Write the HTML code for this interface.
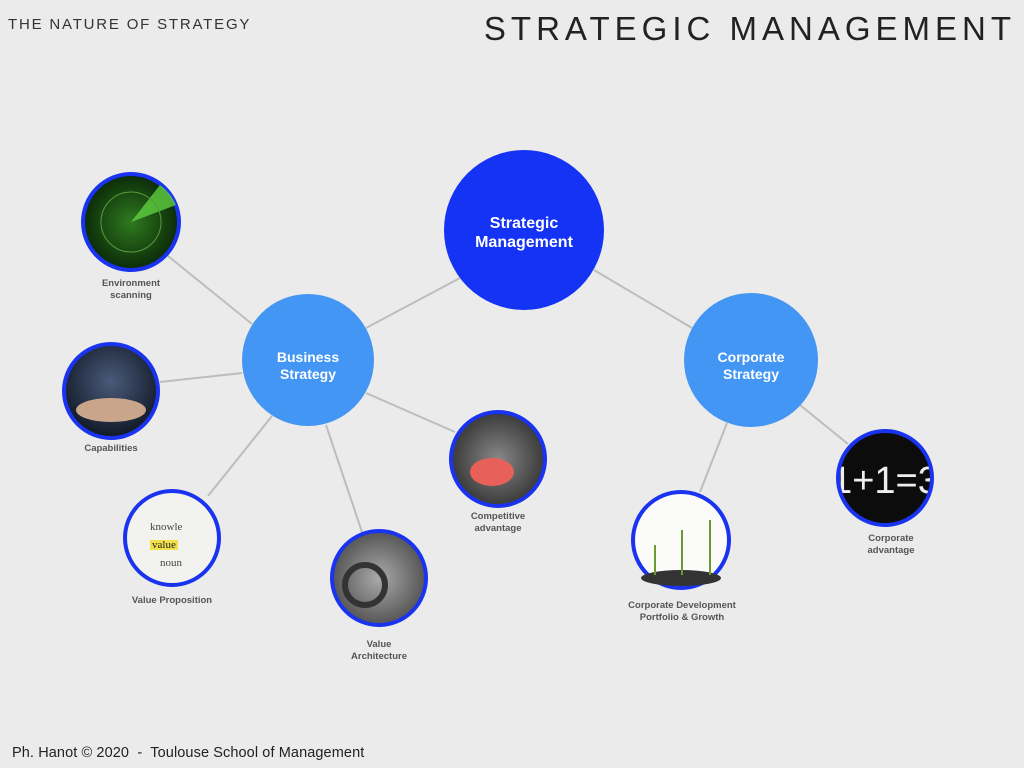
<!DOCTYPE html>
<html><head><meta charset="utf-8"><style>
html,body{margin:0;padding:0;background:#ebebeb;width:1024px;height:768px;overflow:hidden}
svg{display:block}
</style></head><body>
<svg width="1024" height="768" viewBox="0 0 1024 768" xmlns="http://www.w3.org/2000/svg" font-family="Liberation Sans, sans-serif">
<defs>
<radialGradient id="radar" cx="50%" cy="50%" r="50%"><stop offset="0" stop-color="#2f7a1f"/><stop offset="1" stop-color="#0b2a08"/></radialGradient>
<radialGradient id="cap" cx="50%" cy="40%" r="60%"><stop offset="0" stop-color="#4a5a7a"/><stop offset="1" stop-color="#101825"/></radialGradient>
<radialGradient id="gear" cx="50%" cy="50%" r="50%"><stop offset="0" stop-color="#aaa"/><stop offset="1" stop-color="#555"/></radialGradient>
<radialGradient id="rock" cx="50%" cy="50%" r="50%"><stop offset="0" stop-color="#888"/><stop offset="1" stop-color="#3a3a3a"/></radialGradient>
<clipPath id="c3"><circle cx="885" cy="478" r="45"/></clipPath>
</defs>
<rect width="1024" height="768" fill="#ebebeb"/>
<text x="8" y="29" font-size="15" letter-spacing="1.8" fill="#333">THE NATURE OF STRATEGY</text>
<text x="1016" y="40" font-size="33" letter-spacing="5" fill="#222" text-anchor="end">STRATEGIC MANAGEMENT</text>
<g stroke="#bdbdbd" stroke-width="2">
<line x1="460" y1="278" x2="366" y2="328"/>
<line x1="594" y1="270" x2="692" y2="328"/>
<line x1="252" y1="324" x2="168" y2="256"/>
<line x1="242" y1="373" x2="160" y2="382"/>
<line x1="272" y1="416" x2="208" y2="496"/>
<line x1="326" y1="425" x2="362" y2="532"/>
<line x1="366" y1="393" x2="455" y2="432"/>
<line x1="727" y1="423" x2="700" y2="492"/>
<line x1="800" y1="405" x2="848" y2="444"/>
</g>
<circle cx="524" cy="230" r="80" fill="#1433f5"/>
<text x="524" y="228" font-size="16" font-weight="bold" fill="#fff" text-anchor="middle">Strategic</text>
<text x="524" y="247" font-size="16" font-weight="bold" fill="#fff" text-anchor="middle">Management</text>
<circle cx="308" cy="360" r="66" fill="#4396f3"/>
<text x="308" y="362" font-size="14" font-weight="bold" fill="#fff" text-anchor="middle">Business</text>
<text x="308" y="379" font-size="14" font-weight="bold" fill="#fff" text-anchor="middle">Strategy</text>
<circle cx="751" cy="360" r="67" fill="#4396f3"/>
<text x="751" y="362" font-size="14" font-weight="bold" fill="#fff" text-anchor="middle">Corporate</text>
<text x="751" y="379" font-size="14" font-weight="bold" fill="#fff" text-anchor="middle">Strategy</text>
<circle cx="131" cy="222" r="48" fill="url(#radar)" stroke="#1a33f0" stroke-width="4"/>
<path d="M131 222 L176 205 A48 48 0 0 0 160 185 Z" fill="#5fd040" opacity="0.8"/>
<circle cx="131" cy="222" r="30" fill="none" stroke="#5a9a40" stroke-width="1"/>
<circle cx="111" cy="391" r="47" fill="url(#cap)" stroke="#1a33f0" stroke-width="4"/>
<ellipse cx="111" cy="410" rx="35" ry="12" fill="#c9a58c"/>
<circle cx="172" cy="538" r="47" fill="#f2f2ee" stroke="#1a33f0" stroke-width="4"/>
<rect x="150" y="540" width="28" height="10" fill="#f1e04a"/>
<text x="150" y="530" font-size="11" fill="#444" font-family="Liberation Serif, serif">knowle</text>
<text x="152" y="548" font-size="11" fill="#222" font-family="Liberation Serif, serif">value</text>
<text x="160" y="566" font-size="11" fill="#444" font-family="Liberation Serif, serif">noun</text>
<circle cx="379" cy="578" r="47" fill="url(#gear)" stroke="#1a33f0" stroke-width="4"/>
<circle cx="365" cy="585" r="20" fill="none" stroke="#333" stroke-width="6"/>
<circle cx="498" cy="459" r="47" fill="url(#rock)" stroke="#1a33f0" stroke-width="4"/>
<ellipse cx="492" cy="472" rx="22" ry="14" fill="#e8605a"/>
<circle cx="681" cy="540" r="48" fill="#fbfbf9" stroke="#1a33f0" stroke-width="4"/>
<ellipse cx="681" cy="578" rx="40" ry="8" fill="#333"/>
<g stroke="#6a9a30" stroke-width="2"><line x1="655" y1="575" x2="655" y2="545"/><line x1="682" y1="575" x2="682" y2="530"/><line x1="710" y1="575" x2="710" y2="520"/></g>
<circle cx="885" cy="478" r="47" fill="#0c0c0c" stroke="#1a33f0" stroke-width="4"/>
<text x="885" y="493" font-size="38" fill="#eee" text-anchor="middle" clip-path="url(#c3)">1+1=3</text>
<g font-size="9.5" font-weight="bold" fill="#555" text-anchor="middle">
<text x="131" y="286">Environment</text><text x="131" y="298">scanning</text>
<text x="111" y="451">Capabilities</text>
<text x="172" y="603">Value Proposition</text>
<text x="379" y="647">Value</text><text x="379" y="659">Architecture</text>
<text x="498" y="519">Competitive</text><text x="498" y="531">advantage</text>
<text x="682" y="608">Corporate Development</text><text x="682" y="620">Portfolio &amp; Growth</text>
<text x="891" y="541">Corporate</text><text x="891" y="553">advantage</text>
</g>
<text x="12" y="757" font-size="14.5" letter-spacing="0.1" fill="#222" xml:space="preserve">Ph. Hanot © 2020  -  Toulouse School of Management</text>
</svg>
</body></html>
